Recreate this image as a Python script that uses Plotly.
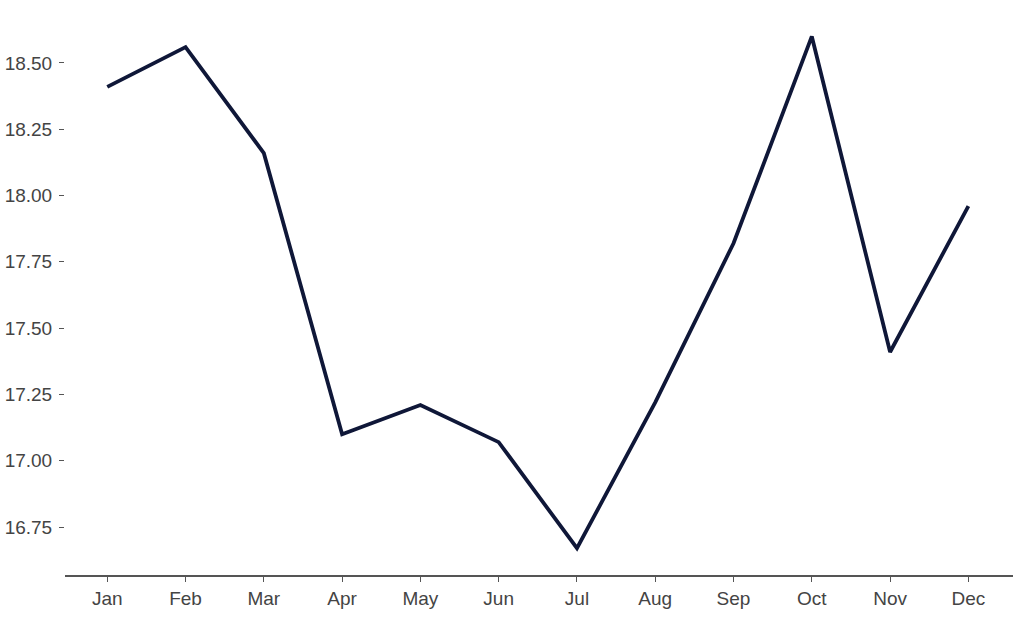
import plotly.graph_objects as go

months = ["Jan", "Feb", "Mar", "Apr", "May", "Jun", "Jul", "Aug", "Sep", "Oct", "Nov", "Dec"]
values = [18.41, 18.56, 18.16, 17.10, 17.21, 17.07, 16.67, 17.22, 17.82, 18.60, 17.41, 17.96]
y_ticks = [16.75, 17.00, 17.25, 17.50, 17.75, 18.00, 18.25, 18.50]

fig = go.Figure()
fig.add_trace(go.Scatter(
    x=list(range(len(months))), y=values, mode="lines",
    line=dict(color="#0f1738", width=3.8),
    hoverinfo="skip",
))

font = dict(family="Liberation Sans, Arial, sans-serif", size=19, color="#444444")

fig.update_layout(
    width=1024, height=617,
    margin=dict(l=65, r=11, t=20, b=42),
    paper_bgcolor="white", plot_bgcolor="white",
    showlegend=False,
    font=font,
    xaxis=dict(
        tickmode="array", tickvals=list(range(len(months))), ticktext=months,
        range=[-0.54, 11.57],
        showgrid=False, zeroline=False,
        showline=True, linecolor="#555555", linewidth=1.5,
        ticks="outside", ticklen=5, tickcolor="#555555", tickwidth=1,
        tickfont=font, automargin=False,
    ),
    yaxis=dict(
        tickmode="array", tickvals=y_ticks,
        ticktext=[f"{v:.2f}" for v in y_ticks],
        range=[16.569, 18.662],
        showgrid=False, zeroline=False, showline=False,
        ticks="outside", ticklen=5, tickcolor="#555555", tickwidth=1,
        ticklabelstandoff=3,
        tickfont=font, automargin=False,
    ),
)

fig.write_html("out.html", config={"displayModeBar": False},
               post_script="document.body.style.margin='0';")
